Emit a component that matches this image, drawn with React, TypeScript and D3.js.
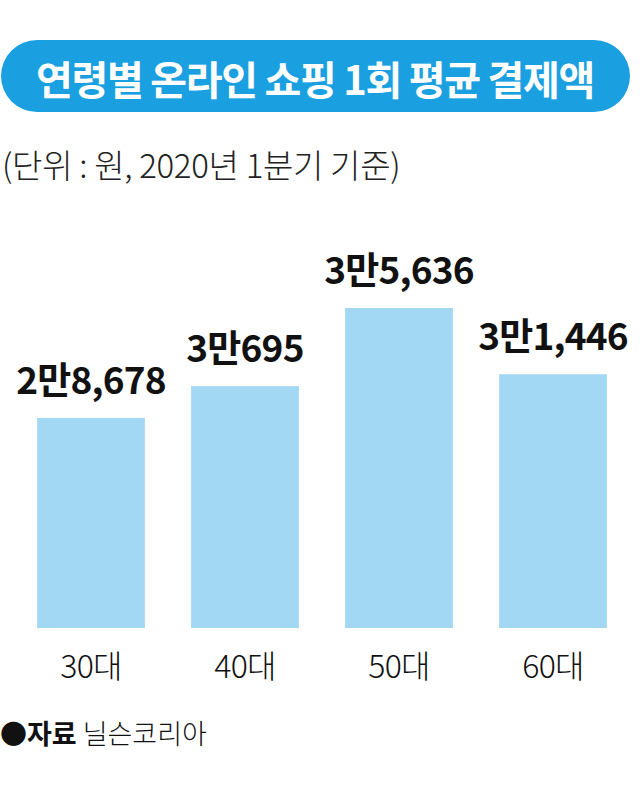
import React from "react";
import * as d3 from "d3";

const title = "연령별 온라인 쇼핑 1회 평균 결제액";
const subtitle = "(단위 : 원, 2020년 1분기 기준)";
const categories = ["30대", "40대", "50대", "60대"];
const values = [28678, 30695, 35636, 31446];
const valueLabels = ["2만8,678", "3만695", "3만5,636", "3만1,446"];
const axisBaseValue = 15400;
const sourceLabel = "자료";
const sourceText = "닐슨코리아";

const W = 640;
const H = 785;
const FONT = "'Noto Sans CJK KR', 'Noto Sans', sans-serif";

export default function App() {
  const x = d3
    .scaleBand<string>()
    .domain(categories)
    .range([14, 630])
    .paddingInner(0.3)
    .paddingOuter(0.15);
  const y = d3
    .scaleLinear()
    .domain([axisBaseValue, d3.max(values) as number])
    .range([628, 308]);

  return (
    <svg
      width={W}
      height={H}
      viewBox={`0 0 ${W} ${H}`}
      style={{ position: "absolute", left: 0, top: 0, background: "#fff" }}
      fontFamily={FONT}
    >
      <rect x={0} y={0} width={W} height={H} fill="#fff" />
      <rect x={1} y={40} width={629} height={72} rx={36} ry={36} fill="#1a9fe0" />
      <text
        x={315}
        y={78}
        textAnchor="middle"
        dominantBaseline="central"
        fill="#fff"
        fontSize={40}
        fontWeight={700}
        letterSpacing={-1.3}
      >
        {title}
      </text>
      <text x={2} y={178} fill="#222" fontSize={33} fontWeight={300} letterSpacing={-0.3}>
        {subtitle}
      </text>
      {categories.map((c, i) => {
        const bx = x(c) as number;
        const by = y(values[i]);
        return (
          <g key={c}>
            <rect x={bx} y={by} width={x.bandwidth()} height={y(axisBaseValue) - by} fill="#a3d8f4" />
            <text
              x={bx + x.bandwidth() / 2}
              y={by - 24}
              textAnchor="middle"
              fill="#111"
              fontSize={37}
              fontWeight={700}
              letterSpacing={-0.8}
            >
              {valueLabels[i]}
            </text>
            <text
              x={bx + x.bandwidth() / 2}
              y={678}
              textAnchor="middle"
              fill="#111"
              fontSize={32}
              fontWeight={300}
              letterSpacing={-0.8}
            >
              {c}
            </text>
          </g>
        );
      })}
      <text x={0} y={744} fill="#111" fontSize={27}>
        <tspan fontWeight={700}>{"●" + sourceLabel}</tspan>
        <tspan fontWeight={300} dx={6}>{sourceText}</tspan>
      </text>
    </svg>
  );
}
